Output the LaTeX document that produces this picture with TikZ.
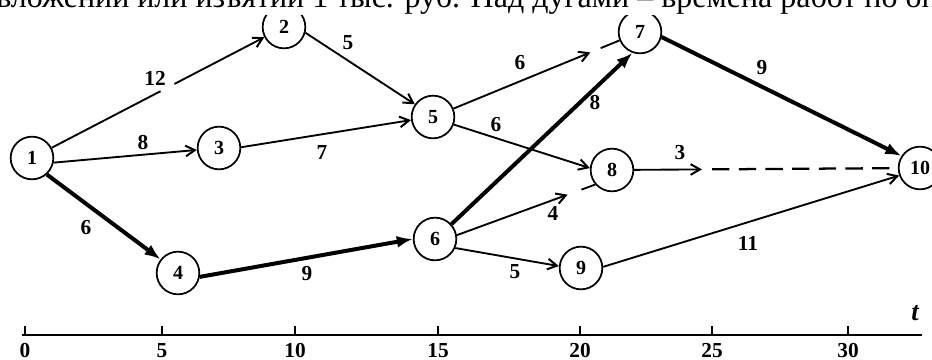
\documentclass[tikz,border=0pt]{standalone}
\usepackage{fontspec}
\setmainfont{Liberation Serif}
\usetikzlibrary{arrows.meta,calc}

\begin{document}
\begin{tikzpicture}[x=0.75pt, y=-0.75pt, >=Latex]
  \tikzstyle{event}=[circle, draw, line width=1.3pt, minimum size=32pt, inner sep=0pt, fill=white, font=\fontsize{15}{15}\selectfont\bfseries]
  \tikzstyle{plain}=[line width=1.4pt]
  \tikzstyle{work}=[plain, -{Straight Barb[length=7pt,width=8pt,line width=1.5pt]}]
  \tikzstyle{crit}=[line width=3pt, -{Latex[length=12pt,width=9pt]}]
  \tikzstyle{dur}=[font=\fontsize{16}{16}\selectfont\bfseries, inner sep=1pt]
  \useasboundingbox (0,0) rectangle (932,360);
  \clip (0,0) rectangle (932,360);

  % events
  \node[event] (n1) at (32,158) {1};
  \node[event] (n2) at (284,27) {2};
  \node[event] (n3) at (219,148) {3};
  \node[event] (n4) at (178,273) {4};
  \node[event] (n5) at (433,117) {5};
  \node[event] (n6) at (435,239) {6};
  \node[event] (n7) at (640,32) {7};
  \node[event] (n8) at (612,170) {8};
  \node[event] (n9) at (581,268) {9};
  \node[event] (n10) at (920,168) {10};

  % works with a break in the line
  \coordinate (a12) at ($(n1)!0.51!(n2)$);
  \coordinate (b12) at ($(n1)!0.565!(n2)$);
  \coordinate (a57) at ($(n5)!0.76!(n7)$);
  \coordinate (b57) at ($(n5)!0.81!(n7)$);
  \coordinate (a68) at ($(n6.10)!0.8!(n8.221)$);
  \coordinate (b68) at ($(n6.10)!0.9!(n8.221)$);
  \coordinate (a810) at ($(n8)!0.292!(n10)$);
  \coordinate (b810) at ($(n8)!0.325!(n10)$);

  \draw[plain] (n1) -- (a12);
  \draw[work] (b12) -- (n2);
  \draw[work] (n1.-12) -- (n3);
  \draw[crit] (n1.-48) -- (n4.142);
  \draw[work] (n2.-15) -- (n5.145);
  \draw[work] (n3.2) -- (n5.188);
  \draw[crit] (n4.-10) -- (n6.west);
  \draw[work] (n5) -- (a57);
  \draw[plain] (b57) -- (n7);
  \draw[work] (n5.-20) -- (n8.175);
  \draw[crit] (n6.42) -- (n7.-110);
  \draw[work] (n6.10) -- (a68);
  \draw[plain] (b68) -- (n8.221);
  \draw[work] (n6.-24) -- (n9.175);
  \draw[crit] (n7.-13) -- (n10.147);
  \draw[work] (n8) -- (a810);
  \draw[plain, line width=1.7pt, dash pattern=on 13pt off 7pt] (b810) -- (n10);
  \draw[work] (n9.3) -- (n10.200);

  % durations
  \node[dur] (d12) at (155,78) {12};
  \node[dur] (d13) at (143,143) {8};
  \node[dur] (d14) at (86,228) {6};
  \node[dur] (d25) at (348,43) {5};
  \node[dur] (d35) at (322,153) {7};
  \node[dur] (d46) at (307,274) {9};
  \node[dur] (d57) at (520,63) {6};
  \node[dur] (d58) at (496,125) {6};
  \node[dur] (d67) at (595,103) {8};
  \node[dur] (d68) at (553,213) {4};
  \node[dur] (d69) at (515,272) {5};
  \node[dur] (d710) at (762,68) {9};
  \node[dur] (d810) at (680,153) {3};
  \node[dur] (d910) at (748,243) {11};

  % time axis
  \coordinate (t0) at (22,335);
  \coordinate (tend) at (922,335);
  \draw[line width=2pt] (t0) -- (tend);
  \foreach \v/\x in {0/25, 5/162, 10/295, 15/438, 20/580, 25/712, 30/848} {
    \draw[line width=0.8pt] (\x,335) -- (\x,326);
    \node[dur, anchor=base, inner sep=0pt, text depth=0pt] (tick\v) at (\x,357) {\v};
  }
  \node[font=\fontsize{20}{20}\selectfont\bfseries\itshape] (tlabel) at (915,313) {t};

  % caption line cut by the top edge
  \node[anchor=base west, fill=white, inner sep=0pt, font=\fontsize{24}{24}\selectfont] (caption) at (-4,8) {вложений или изъятий 1 тыс. руб. Над дугами – времена работ по оп};
\end{tikzpicture}
\end{document}
